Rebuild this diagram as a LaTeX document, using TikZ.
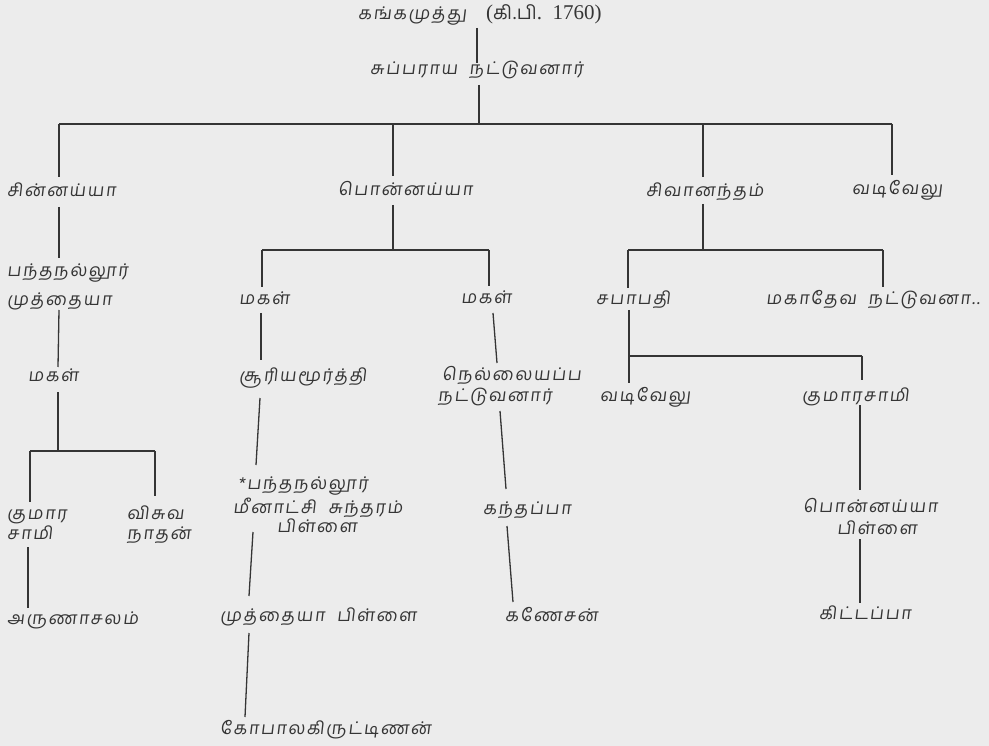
\documentclass[tikz,border=0pt]{standalone}
\usepackage{fontspec}
\newfontfamily\tam[Script=Tamil,FakeSlant=0.12,LetterSpace=10,WordSpace=2]{Hind Madurai}
\newfontfamily\tamup[Script=Tamil,LetterSpace=4]{Hind Madurai}
\newfontfamily\lat{Liberation Serif}
\definecolor{bg}{HTML}{ECECEC}
\definecolor{ink}{HTML}{353535}
\tikzset{
  t/.style={font=\tam\fontsize{17.5}{20}\selectfont, text=ink, inner sep=0pt, anchor=west, text height=9pt, text depth=0pt},
  ln/.style={draw=ink, line width=1.3pt},
}
\begin{document}
\begin{tikzpicture}[x=1pt,y=-1pt]
\fill[bg] (0,0) rectangle (989,746);
\useasboundingbox (0,0) rectangle (989,746);

% nodes
\node[t] (t1) at (358,15) {கங்கமுத்து\hspace{20pt}{\lat\fontsize{21}{22}\selectfont(}{\tamup\fontsize{19}{22}\selectfont கி.பி}{\lat\fontsize{21}{22}\selectfont.\ \ 1760)}};
\node[t] (sub) at (370,70) {சுப்பராய நட்டுவனார்};

\node[t] (chin) at (7,192) {சின்னய்யா};
\node[t] (ponn) at (338,191) {பொன்னய்யா};
\node[t] (siva) at (646,192) {சிவானந்தம்};
\node[t] (vadiA) at (852,190) {வடிவேலு};

\node[t] (panthA) at (7,272) {பந்தநல்லூர்};
\node[t] (panthB) at (7,301) {முத்தையா};
\node[t] (magalA) at (28,377) {மகள்};
\node[t] (kumA1) at (7,515) {குமார};
\node[t] (kumA2) at (7,535) {சாமி};
\node[t] (visu1) at (127,515) {விசுவ};
\node[t] (visu2) at (127,535) {நாதன்};
\node[t] (aruna) at (7,620) {அருணாசலம்};

\node[t] (magalB) at (239,300) {மகள்};
\node[t] (suriya) at (239,377) {சூரியமூர்த்தி};
\node[t] (meen1) at (238,485) {*பந்தநல்லூர்};
\node[t] (meen2) at (233,509) {மீனாட்சி சுந்தரம்};
\node[t] (meen3) at (277,528) {பிள்ளை};
\node[t] (muth) at (220,617) {முத்தையா பிள்ளை};
\node[t] (gopal) at (220,730) {கோபாலகிருட்டிணன்};

\node[t] (magalC) at (461,299) {மகள்};
\node[t] (nell1) at (442,376) {நெல்லையப்ப};
\node[t] (nell2) at (438,397) {நட்டுவனார்};
\node[t] (kand) at (483,510) {கந்தப்பா};
\node[t] (gan) at (505,617) {கணேசன்};

\node[t] (saba) at (596,300) {சபாபதி};
\node[t] (maha) at (766,300) {மகாதேவ நட்டுவனா..};
\node[t] (vadiB) at (600,397) {வடிவேலு};
\node[t] (kumB) at (802,397) {குமாரசாமி};
\node[t] (pp1) at (803,508) {பொன்னய்யா};
\node[t] (pp2) at (837,530) {பிள்ளை};
\node[t] (kitta) at (819,615) {கிட்டப்பா};

% junctions
\coordinate (j0) at (479,124);
\coordinate (j0a) at (59,124);
\coordinate (j0b) at (393,124);
\coordinate (j0c) at (703,124);
\coordinate (j0d) at (892,124);
\coordinate (j1) at (58,451);
\coordinate (j1a) at (30,451);
\coordinate (j1b) at (155,451);
\coordinate (j2) at (393,250);
\coordinate (j2a) at (262,250);
\coordinate (j2b) at (489,250);
\coordinate (j3) at (703,250);
\coordinate (j3a) at (628,250);
\coordinate (j3b) at (883,250);
\coordinate (j4a) at (629,356);
\coordinate (j4b) at (862,356);

% top
\draw[ln] ([shift={(119,13)}]t1.west) -- ([shift={(107,-7)}]sub.west);
\draw[ln] ([shift={(109,15)}]sub.west) -- (j0);
\draw[ln] (j0a) -- (j0d);
\draw[ln] (j0a) -- ([shift={(52,-15)}]chin.west);
\draw[ln] (j0b) -- ([shift={(55,-15)}]ponn.west);
\draw[ln] (j0c) -- ([shift={(57,-15)}]siva.west);
\draw[ln] (j0d) -- ([shift={(40,-15)}]vadiA.west);

% Chinnaiya line
\draw[ln] ([shift={(52,15)}]chin.west) -- ([shift={(52,-14)}]panthA.west);
\draw[ln] ([shift={(52,9)}]panthB.west) -- ([shift={(30,-10)}]magalA.west);
\draw[ln] ([shift={(30,15)}]magalA.west) -- (j1);
\draw[ln] (j1a) -- (j1b);
\draw[ln] (j1a) -- ([shift={(23,-13)}]kumA1.west);
\draw[ln] (j1b) -- ([shift={(28,-19)}]visu1.west);
\draw[ln] ([shift={(21,12)}]kumA2.west) -- ([shift={(21,-12)}]aruna.west);

% Ponnaiya line
\draw[ln] ([shift={(55,14)}]ponn.west) -- (j2);
\draw[ln] (j2a) -- (j2b);
\draw[ln] (j2a) -- ([shift={(23,-13)}]magalB.west);
\draw[ln] ([shift={(22,13)}]magalB.west) -- ([shift={(22,-17)}]suriya.west);
\draw[ln] ([shift={(21,21)}]suriya.west) -- ([shift={(18,-20)}]meen1.west);
\draw[ln] ([shift={(20,23)}]meen2.west) -- ([shift={(29,-21)}]muth.west);
\draw[ln] ([shift={(29,16)}]muth.west) -- ([shift={(25,-13)}]gopal.west);

\draw[ln] (j2b) -- ([shift={(28,-13)}]magalC.west);
\draw[ln] ([shift={(32,14)}]magalC.west) -- ([shift={(55,-13)}]nell1.west);
\draw[ln] ([shift={(62,14)}]nell2.west) -- ([shift={(23,-21)}]kand.west);
\draw[ln] ([shift={(24,16)}]kand.west) -- ([shift={(8,-15)}]gan.west);

% Sivanantham line
\draw[ln] ([shift={(57,12)}]siva.west) -- (j3);
\draw[ln] (j3a) -- (j3b);
\draw[ln] (j3a) -- ([shift={(32,-12)}]saba.west);
\draw[ln] (j3b) -- ([shift={(117,-13)}]maha.west);
\draw[ln] ([shift={(33,10)}]saba.west) -- (j4a);
\draw[ln] (j4a) -- (j4b);
\draw[ln] (j4a) -- ([shift={(29,-14)}]vadiB.west);
\draw[ln] (j4b) -- ([shift={(60,-17)}]kumB.west);
\draw[ln] ([shift={(58,8)}]kumB.west) -- ([shift={(57,-18)}]pp1.west);
\draw[ln] ([shift={(23,9)}]pp2.west) -- ([shift={(41,-12)}]kitta.west);
\end{tikzpicture}
\end{document}
